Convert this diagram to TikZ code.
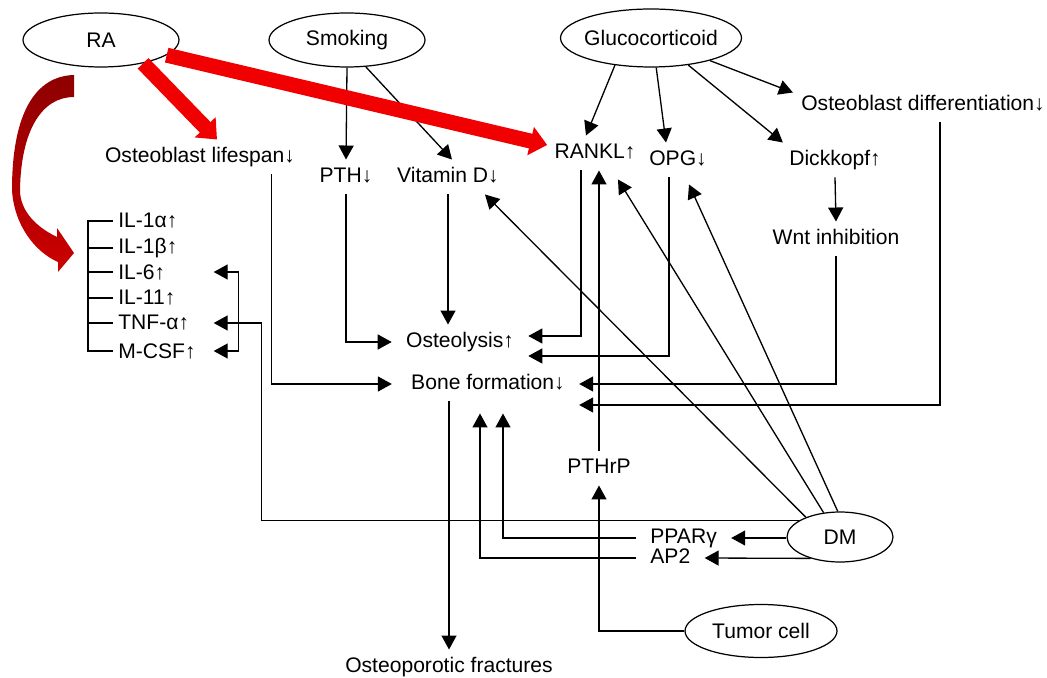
\documentclass[tikz,border=0pt]{standalone}
\usepackage{fontspec}
\setmainfont{Liberation Sans}
\usetikzlibrary{arrows.meta,shapes.geometric}
\definecolor{rared}{HTML}{F00000}
\definecolor{curvetop}{HTML}{8E0000}
\definecolor{curvebottom}{HTML}{CC0000}

\begin{document}
\begin{tikzpicture}[x=0.02cm, y=-0.02cm, font=\fontsize{12}{14}\selectfont,
  oval/.style={ellipse, draw, line width=0.7pt, inner sep=0pt},
  lbl/.style={inner xsep=8pt, inner ysep=4pt, text height=9pt, text depth=2.5pt},
  il/.style={anchor=west, inner xsep=0.1cm, inner ysep=1pt, text width=1.8cm, align=left},
  arr/.style={line width=0.75pt, -{Triangle[length=0.28cm,width=0.3cm]}},
  arrboth/.style={line width=0.75pt, {Triangle[length=0.28cm,width=0.3cm]}-{Triangle[length=0.28cm,width=0.3cm]}},
  redarr/.style={draw=rared, line width=0.3cm, -{Triangle[length=0.34cm,width=0.56cm]}}]
  \useasboundingbox (0,0) rectangle (1047,678);

  % Causes (ellipses)
  \node[oval, minimum width=3.12cm, minimum height=1.08cm] (ra)      at (101,40)  {RA};
  \node[oval, minimum width=3.12cm, minimum height=1.08cm] (smoking) at (347,40)  {Smoking};
  \node[oval, minimum width=3.62cm, minimum height=1.16cm] (gluco)   at (651,38)  {\makebox[0pt]{Glucocorticoid}};
  \node[oval, minimum width=2.12cm, minimum height=1.0cm]  (dm)      at (840,537) {DM};
  \node[oval, minimum width=3.04cm, minimum height=1.06cm] (tumor)   at (761,631) {Tumor cell};

  % Intermediate factors
  \node[lbl] (life)  at (200,157) {Osteoblast lifespan↓};
  \node[lbl] (pth)   at (346,177) {PTH↓};
  \node[lbl] (vitd)  at (448,177) {Vitamin D↓};
  \node[lbl] (rankl) at (595,153) {RANKL↑};
  \node[lbl] (opg)   at (678,160) {OPG↓};
  \node[lbl] (dick)  at (835,160) {Dickkopf↑};
  \node[lbl] (diff)  at (923,105) {Osteoblast differentiation↓};
  \node[lbl] (wnt)   at (836,239) {Wnt inhibition};
  \node[lbl] (pthrp) at (599,468) {PTHrP};
  \node[lbl, anchor=west] (ppar) at (636,538) {PPARγ};
  \node[lbl, anchor=west] (ap2)  at (636,558) {AP2};

  % Outcomes
  \node[lbl] (lysis) at (460,342) {Osteolysis↑};
  \node[lbl] (bone)  at (488,384) {Bone formation↓};
  \node[lbl] (fract) at (449,667) {Osteoporotic fractures};

  % Cytokine list with bracket
  \foreach \n/\t/\y in {il1a/IL-1α↑/221, il1b/IL-1β↑/248, il6/IL-6↑/272,
                        il11/IL-11↑/298, tnf/TNF-α↑/323, mcsf/M-CSF↑/351}
    \node[il] (\n) at (113,\y) {\t};
  \draw[line width=0.75pt] (il1a.west) -- ++(-25,0) |- (mcsf.west);
  \foreach \n in {il1b,il6,il11,tnf}
    \draw[line width=0.75pt] (\n.west) -- ++(-25,0);
  \draw[arrboth] (il6.east) -- ++(25,0) |- (mcsf.east);

  % Smoking
  \draw[arr] (smoking.south) -- (pth.north);
  \draw[arr] (smoking.-55) -- ([xshift=0.08cm]vitd.north);

  % Glucocorticoid
  \draw[arr] (gluco.-143) -- ([xshift=-0.18cm]rankl.north);
  \draw[arr] (gluco.-80)  -- ([xshift=-0.24cm]opg.north);
  \draw[arr] (gluco.-36)  -- ([xshift=0.16cm]dick.north west);
  \draw[arr] (gluco.-21)  -- ([xshift=0.12cm,yshift=-0.1cm]diff.north west);
  \draw[arr] (dick.south) -- (wnt.north);

  % Into osteolysis and bone formation
  \draw[arr] (pth.south) |- (lysis.west);
  \draw[arr] (vitd.south) -- (vitd.south |- lysis.north);
  \draw[arr] ([xshift=-0.28cm]rankl.south) |- ([yshift=0.12cm]lysis.east);
  \draw[arr] ([xshift=-0.18cm]opg.south) |- ([yshift=-0.28cm]lysis.east);
  \draw[arr] ([xshift=-0.76cm]life.south east) |- ([xshift=-0.1cm]bone.west);
  \draw[arr] (wnt.south) |- (bone.east);
  \draw[arr] ([xshift=0.34cm]diff.south) |- ([yshift=-0.42cm]bone.east);
  \draw[arr] (bone.south -| fract.north) -- (fract.north);

  % Tumor cell
  \draw[arr] (tumor.west) -| (pthrp.south);
  \draw[arr] (pthrp.north) -- (pthrp.north |- rankl.south);

  % DM
  \draw[arr] (dm.150) -- ([xshift=0.74cm]vitd.south);
  \draw[arr] (dm.124) -- ([xshift=0.46cm,yshift=-0.18cm]rankl.south);
  \draw[arr] (dm.95)  -- ([xshift=0.22cm,yshift=-0.14cm]opg.south);
  \draw[arr] (dm.158) -| ([xshift=0.96cm]tnf.east) |- (tnf.east);
  \draw[arr] (dm.west |- ppar.east) -- (ppar.east);
  \draw[arr] (dm.-144) -- (ap2.east);
  \draw[arr] (ppar.west) -| ([xshift=0.3cm,yshift=-0.24cm]bone.south);
  \draw[arr] (ap2.west)  -| ([xshift=-0.16cm,yshift=-0.24cm]bone.south);

  % RA (red arrows)
  \draw[redarr] (ra.-29) -- ([xshift=0.34cm]life.north);
  \draw[redarr] (ra.-13) -- ([xshift=0.14cm,yshift=0.16cm]rankl.west);
  \shade[top color=curvetop, bottom color=curvebottom]
    (74,75) .. controls (36,76) and (12,112) .. (12,190)
    .. controls (14,225) and (35,252) .. (58,262) -- (58,272) -- (74,253) -- (57,228) -- (57,237)
    .. controls (38,228) and (20,212) .. (20,190)
    .. controls (21,130) and (42,97) .. (74,97) -- cycle;
\end{tikzpicture}
\end{document}
